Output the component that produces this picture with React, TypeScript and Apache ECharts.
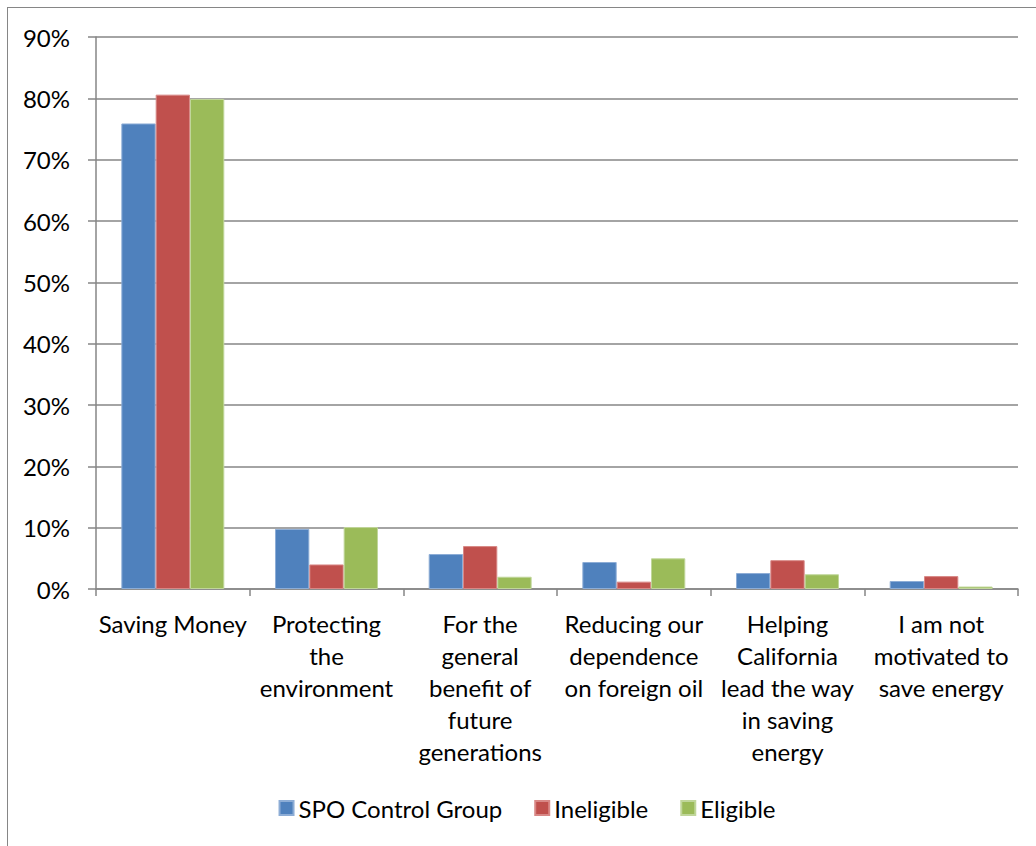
import React, { useEffect, useRef } from "react";
import * as echarts from "echarts";

const categories = [
  "Saving Money",
  "Protecting\nthe\nenvironment",
  "For the\ngeneral\nbenefit of\nfuture\ngenerations",
  "Reducing our\ndependence\non foreign oil",
  "Helping\nCalifornia\nlead the way\nin saving\nenergy",
  "I am not\nmotivated to\nsave energy",
];

const spoControl = [0.759, 0.098, 0.057, 0.044, 0.026, 0.013];
const ineligible = [0.806, 0.04, 0.07, 0.012, 0.047, 0.021];
const eligible = [0.799, 0.101, 0.02, 0.05, 0.024, 0.004];

const seriesNames = ["SPO Control Group", "Ineligible", "Eligible"];
const colors = ["#4F81BD", "#C0504D", "#9BBB59"];
const borders = ["#8DADD6", "#D88886", "#C0D69A"];

const FONT = "Lato";

export default function App() {
  const ref = useRef<HTMLDivElement>(null);
  useEffect(() => {
    if (!ref.current) return;
    const chart = echarts.init(ref.current, undefined, { renderer: "svg" });
    const data = [spoControl, ineligible, eligible];
    chart.setOption({
      animation: false,
      textStyle: { fontFamily: FONT },
      grid: { left: 88, top: 29, width: 922, height: 552, containLabel: false },
      legend: {
        top: 780,
        left: "center",
        icon: "rect",
        itemWidth: 14,
        itemHeight: 14,
        itemGap: 32,
        textStyle: { fontFamily: FONT, fontSize: 24, color: "#000", lineHeight: 30 },
        data: seriesNames,
      },
      xAxis: {
        type: "category",
        data: categories,
        axisLine: { lineStyle: { color: "#868686", width: 1.5 } },
        axisTick: { show: true, length: 7, lineStyle: { color: "#868686", width: 1.5 } },
        axisLabel: {
          interval: 0,
          margin: 18,
          fontFamily: FONT,
          fontSize: 24,
          lineHeight: 32,
          color: "#000",
          align: "center",
        },
      },
      yAxis: {
        type: "value",
        min: 0,
        max: 0.9,
        interval: 0.1,
        axisLine: { show: true, lineStyle: { color: "#868686", width: 1.5 } },
        axisTick: { show: true, length: 8, lineStyle: { color: "#868686", width: 1.5 } },
        splitLine: { lineStyle: { color: "#868686", width: 1.5 } },
        axisLabel: {
          margin: 26,
          fontFamily: FONT,
          fontSize: 24,
          color: "#000",
          formatter: (v: number) => Math.round(v * 100) + "%",
        },
      },
      series: seriesNames.map((name, i) => ({
        name,
        type: "bar",
        data: data[i],
        barGap: "0%",
        barCategoryGap: "33%",
        itemStyle: { color: colors[i], borderColor: borders[i], borderWidth: 1 },
      })),
    });
    return () => chart.dispose();
  }, []);
  return (
    <div
      style={{
        position: "fixed",
        left: 7,
        top: 7,
        width: 1040,
        height: 850,
        border: "1px solid #868686",
        boxSizing: "border-box",
        background: "#fff",
      }}
    >
      <div ref={ref} style={{ width: 1038, height: 848 }} />
    </div>
  );
}
